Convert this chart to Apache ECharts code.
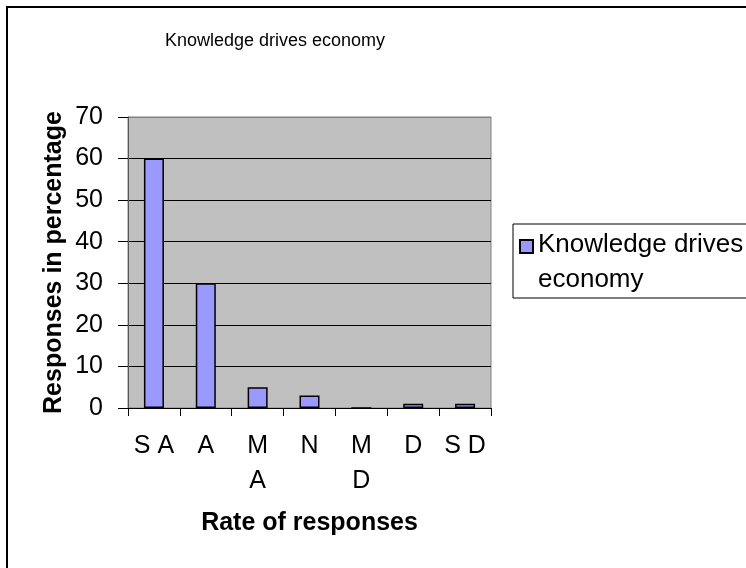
<!DOCTYPE html>
<html>
<head>
<meta charset="utf-8">
<script src="https://cdn.jsdelivr.net/npm/echarts@6/dist/echarts.min.js"></script>
<style>
html,body{margin:0;padding:0;background:#fff;}
#chart{width:746px;height:568px;}
</style>
</head>
<body>
<div id="chart"></div>
<script>
var chartTitle = 'Knowledge drives economy';
var categories = ['S A', 'A', 'M\nA', 'N', 'M\nD', 'D', 'S D'];
var seriesName = 'Knowledge drives economy';
var values = [60, 30, 5, 3, 0, 1, 1];
var yTicks = [0, 10, 20, 30, 40, 50, 60, 70];
var xTitle = 'Rate of responses';
var yTitle = 'Responses in percentage';

var FONT = 'Liberation Sans, Arial, sans-serif';
var gridLineColors = yTicks.map(function (v, i) { return i === yTicks.length - 1 ? '#808080' : '#000'; });
var chart = echarts.init(document.getElementById('chart'), null, {renderer: 'canvas'});
chart.setOption({
  backgroundColor: '#ffffff',
  animation: false,
  title: {
    text: chartTitle,
    left: 270, top: 27, textAlign: 'center',
    textStyle: {fontFamily: FONT, fontSize: 18, fontWeight: 'normal', color: '#000'}
  },
  graphic: [{
    type: 'rect', silent: true,
    shape: {x: 7, y: 7, width: 800, height: 700},
    style: {fill: 'none', stroke: '#000', lineWidth: 2}
  }],
  legend: {
    left: 513, top: 224,
    orient: 'vertical',
    borderColor: '#000', borderWidth: 1,
    padding: [3, 40, 1, 6],
    itemWidth: 13, itemHeight: 44,
    itemGap: 0,
    icon: 'path://M0,0L13,0L13,13L0,13Z M0,44L0,44',
    formatter: function (n) { return 'Knowledge drives\neconomy'; },
    textStyle: {fontFamily: FONT, fontSize: 26, color: '#000', lineHeight: 35}
  },
  grid: {
    left: 128, right: 255, top: 117, bottom: 160,
    show: true, backgroundColor: '#c0c0c0', borderColor: '#808080', borderWidth: 1
  },
  xAxis: {
    type: 'category',
    data: categories,
    name: xTitle,
    nameLocation: 'middle',
    nameGap: 103,
    nameMoveOverlap: false,
    nameTextStyle: {fontFamily: FONT, fontSize: 25, fontWeight: 'bold', color: '#000'},
    axisLine: {lineStyle: {color: '#000', width: 1}},
    axisTick: {show: true, length: 8, lineStyle: {color: '#000'}},
    axisLabel: {fontFamily: FONT, fontSize: 25, color: '#000', margin: 21, lineHeight: 35, interval: 0}
  },
  yAxis: {
    type: 'value',
    min: yTicks[0], max: yTicks[yTicks.length - 1], interval: 10,
    name: yTitle,
    nameLocation: 'middle',
    nameRotate: 90,
    nameGap: 61,
    nameMoveOverlap: false,
    nameTextStyle: {fontFamily: FONT, fontSize: 25, fontWeight: 'bold', color: '#000'},
    axisLine: {show: true, lineStyle: {color: '#555', width: 1}},
    axisTick: {show: true, length: 10, lineStyle: {color: '#000'}},
    axisLabel: {fontFamily: FONT, fontSize: 25, color: '#000', margin: 25},
    splitLine: {show: true, lineStyle: {color: gridLineColors, width: 1}}
  },
  series: [{
    name: seriesName,
    type: 'bar',
    data: values,
    barWidth: 20,
    itemStyle: {color: '#9999ff', borderColor: '#000', borderWidth: 1.5}
  }]
});
</script>
</body>
</html>
